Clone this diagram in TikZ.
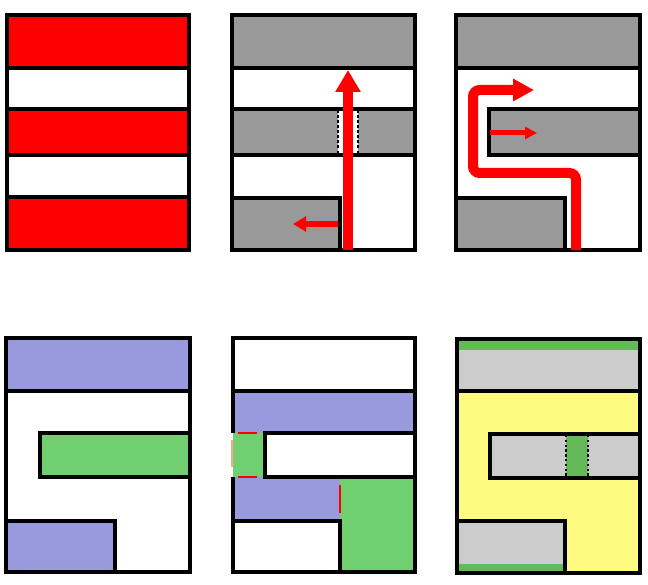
\documentclass[tikz,border=0pt]{standalone}
\usetikzlibrary{arrows.meta}
\definecolor{rred}{RGB}{255,0,0}
\definecolor{dgray}{RGB}{153,153,153}
\definecolor{lgray}{RGB}{204,204,204}
\definecolor{lblue}{RGB}{153,153,221}
\definecolor{lgreen}{RGB}{112,208,112}
\definecolor{dgreen}{RGB}{100,185,88}
\definecolor{lyellow}{RGB}{255,250,128}
\tikzset{
  edge/.style={draw=black,line width=2.6pt},
  thindash/.style={draw=black,line width=0.9pt,dash pattern=on 2.2pt off 1.6pt},
  dotline/.style={draw=black,line width=1.8pt,dash pattern=on 1.8pt off 1.8pt},
  redline/.style={draw=rred,line width=1.2pt},
}
\begin{document}
\begin{tikzpicture}[x=0.75pt,y=-0.75pt]
\useasboundingbox (0,0) rectangle (648,584);
\fill[white] (0,0) rectangle (648,584);
% ---------- Panel 1 ----------
\fill[rred] (7,15) rectangle (189,68);
\fill[rred] (7,109) rectangle (189,155);
\fill[rred] (7,197) rectangle (189,250);
\draw[edge] (7,15) rectangle (189,250);
\draw[edge] (7,68) -- (189,68);
\draw[edge] (7,109) -- (189,109);
\draw[edge] (7,155) -- (189,155);
\draw[edge] (7,197) -- (189,197);
% ---------- Panel 2 ----------
\fill[dgray] (232,15) rectangle (415,68);
\fill[dgray] (232,109) rectangle (338,155);
\fill[dgray] (358,109) rectangle (415,155);
\fill[dgray] (232,198) rectangle (340,250);
\draw[edge] (232,15) rectangle (415,250);
\draw[edge] (232,68) -- (415,68);
\draw[edge] (232,109) -- (415,109);
\draw[edge] (232,155) -- (415,155);
\draw[edge] (232,198) -- (340,198) -- (340,250);
\draw[thindash] (338,110) -- (338,154);
\draw[thindash] (358,110) -- (358,154);
\draw[rred,line width=7.5pt,-{Triangle[length=16.5pt,width=18pt]}] (348,250) -- (348,70);
\draw[rred,line width=4.5pt,-{Triangle[length=9.75pt,width=11pt]}] (338,224) -- (293,224);
% ---------- Panel 3 ----------
\fill[dgray] (456,15) rectangle (640,68);
\fill[dgray] (489,109) rectangle (640,155);
\fill[dgray] (456,198) rectangle (565,250);
\draw[edge] (456,15) rectangle (640,250);
\draw[edge] (456,68) -- (640,68);
\draw[edge] (640,109) -- (489,109) -- (489,155) -- (640,155);
\draw[edge] (456,198) -- (565,198) -- (565,250);
\draw[rred,line width=7.5pt,rounded corners=5pt,-{Triangle[length=15.75pt,width=16pt]}]
  (576,250) -- (576,173) -- (473,173) -- (473,90) -- (534,90);
\draw[rred,line width=3.75pt,-{Triangle[length=9pt,width=9pt]}] (490,133) -- (537,133);
% ---------- Panel 4 ----------
\fill[lblue] (6,338) rectangle (190,391);
\fill[lgreen] (40,433) rectangle (190,477);
\fill[lblue] (6,521) rectangle (115,572);
\draw[edge] (6,338) rectangle (190,572);
\draw[edge] (6,391) -- (190,391);
\draw[edge] (190,433) -- (40,433) -- (40,477) -- (190,477);
\draw[edge] (6,521) -- (115,521) -- (115,572);
% ---------- Panel 5 ----------
\fill[lblue] (233,391) rectangle (415,433);
\fill[lgreen] (233,433) rectangle (265,477);
\fill[lblue] (233,477) rectangle (340,521);
\fill[lgreen] (340,477) rectangle (415,572);
\draw[edge] (233,433) -- (233,338) -- (415,338) -- (415,572) -- (233,572) -- (233,477);
\draw[edge] (233,391) -- (415,391);
\draw[edge] (415,433) -- (265,433) -- (265,477) -- (415,477);
\draw[edge] (233,521) -- (340,521) -- (340,572);
\draw[redline] (238,433) -- (257,433);
\draw[redline] (238,477) -- (257,477);
\draw[draw=rred!40!orange,line width=0.8pt,opacity=0.5] (232,440) -- (232,467);
\draw[redline] (340,485) -- (340,513);
% ---------- Panel 6 ----------
\fill[lyellow] (457,339) rectangle (640,573);
\fill[lgray] (457,339) rectangle (640,391);
\fill[dgreen] (457,339) rectangle (640,350);
\fill[lgray] (490,434) rectangle (640,478);
\fill[dgreen] (566,434) rectangle (588,478);
\fill[lgray] (457,521) rectangle (565,573);
\fill[dgreen] (457,564) rectangle (565,573);
\draw[edge] (457,339) rectangle (640,573);
\draw[edge] (457,391) -- (640,391);
\draw[edge] (640,434) -- (490,434) -- (490,478) -- (640,478);
\draw[edge] (457,521) -- (565,521) -- (565,573);
\draw[dotline] (566,435) -- (566,477);
\draw[dotline] (588,435) -- (588,477);
\end{tikzpicture}
\end{document}
